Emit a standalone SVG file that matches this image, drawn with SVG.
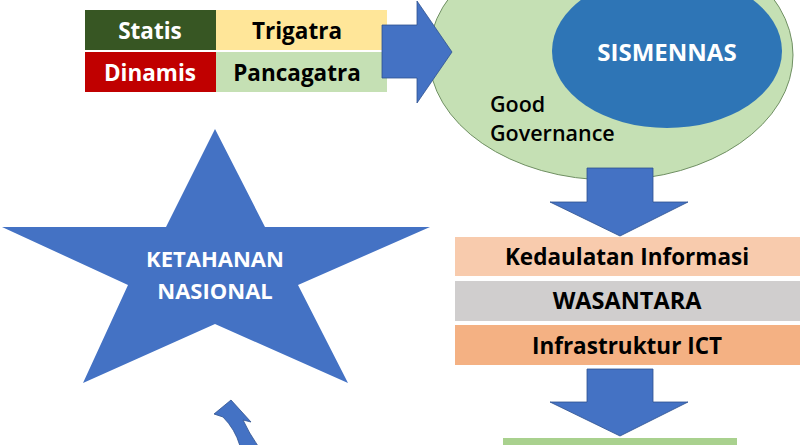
<svg xmlns="http://www.w3.org/2000/svg" width="800" height="445" viewBox="0 0 800 445">
<style>
.t{font-family:"Open Sans","Liberation Sans",sans-serif;font-weight:700;text-anchor:middle}
.w{fill:#ffffff}
.k{fill:#000000}
.arr{fill:#4472c4;stroke:#2f528f;stroke-width:0.8}
</style>
<rect width="800" height="445" fill="#ffffff"/>
<g id="table">
<rect x="85" y="10" width="131" height="40" fill="#375623"/>
<rect x="216" y="10" width="171" height="40" fill="#ffe699"/>
<rect x="85" y="52" width="131" height="40" fill="#c00000"/>
<rect x="216" y="52" width="171" height="40" fill="#c5e0b4"/>
<text class="t w" x="150" y="39" font-size="22.5">Statis</text>
<text class="t k" x="297" y="39" font-size="22.5">Trigatra</text>
<text class="t w" x="150" y="81" font-size="22.5">Dinamis</text>
<text class="t k" x="297" y="81" font-size="22.5">Pancagatra</text>
</g>
<g id="governance">
<ellipse cx="611" cy="55" rx="182" ry="125" fill="#c5e0b4" stroke="#6f8f62" stroke-width="1"/>
<text x="490" y="112" font-family="'Open Sans','Liberation Sans',sans-serif" font-weight="600" font-size="21.5" fill="#000">Good</text>
<text x="490" y="141" font-family="'Open Sans','Liberation Sans',sans-serif" font-weight="600" font-size="21.5" fill="#000">Governance</text>
</g>
<g id="sismennas">
<ellipse cx="667" cy="51" rx="115" ry="77" fill="#2e75b6"/>
<text class="t w" x="667" y="61" font-size="24">SISMENNAS</text>
</g>
<g id="star">
<polygon points="215,129 265,227 430,227 298,285 348,383 215,324 83,383 128,285 2,227 166,227" fill="#4472c4"/>
<text class="t w" x="215" y="267" font-size="22">KETAHANAN</text>
<text class="t w" x="215" y="299" font-size="22">NASIONAL</text>
</g>
<g id="kedaulatan">
<rect x="455" y="237" width="345" height="39" fill="#f8cbad"/>
<text class="t k" x="627" y="265" font-size="22.5">Kedaulatan Informasi</text>
</g>
<g id="wasantara">
<rect x="455" y="281" width="345" height="40" fill="#d0cece"/>
<text class="t k" x="627" y="309" font-size="23.5">WASANTARA</text>
</g>
<g id="ict">
<rect x="455" y="325" width="345" height="40" fill="#f4b183"/>
<text class="t k" x="627" y="354" font-size="22.5">Infrastruktur ICT</text>
</g>
<g id="bottom">
<rect x="503" y="438" width="234" height="10" fill="#a9d18e"/>
</g>
<g id="connectors">
<path class="arr" d="M382,25 L417,25 L417,1 L452,52 L417,103 L417,78 L382,78 Z"/>
<path class="arr" d="M587,168 L653,168 L653,202 L688,202 L620,236 L550,202 L587,202 Z"/>
<path class="arr" d="M587,369 L653,369 L653,402 L688,402 L620,436 L550,402 L587,402 Z"/>
<path class="arr" d="M231,400 L251,422 L243,420 Q249,433 258,446 L240,446 Q235,429 223,417 L214,414 Z"/>
</g>
</svg>
